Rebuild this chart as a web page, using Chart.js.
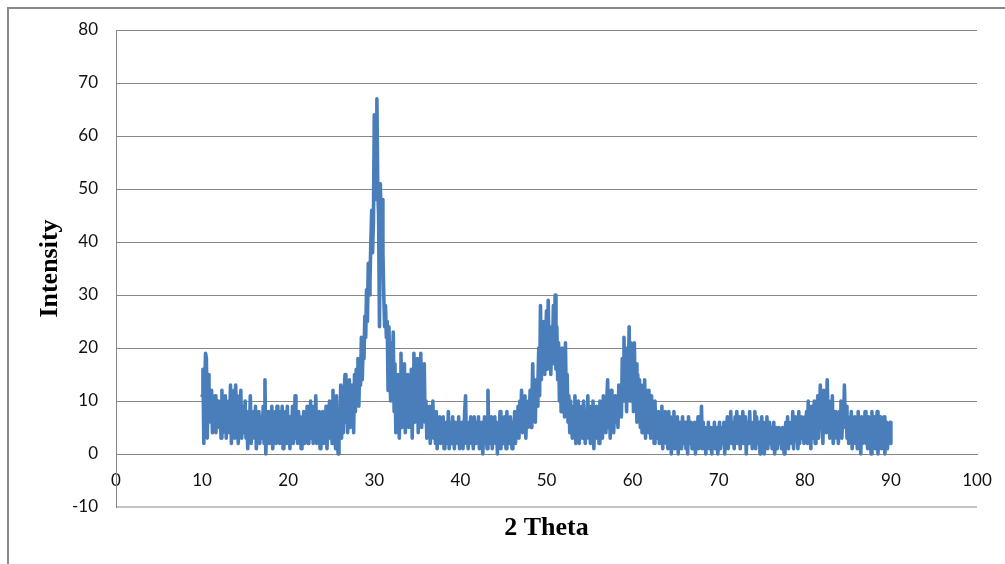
<!DOCTYPE html>
<html>
<head>
<meta charset="utf-8">
<script src="https://cdn.jsdelivr.net/npm/chart.js@4/dist/chart.umd.min.js"></script>
<style>
    body { margin: 0; background: #fff; overflow: hidden; }
    .moldura {
        position: absolute; left: 7px; top: 7px;
        width: 1200px; height: 800px;
        border: 2px solid #8a8a8a;
    }
    #grafico { position: absolute; left: 0; top: 0; }
</style>
</head>
<body>
<div class="moldura"></div>
<canvas id="grafico" width="1005" height="564"></canvas>

<script>
// varredura de 10 a 90 graus, passo de 0.1
const inicio = 10
const passo = 0.1

const intens10a30 = [
    11, 16, 2, 13, 19, 18, 3, 15, 8, 12,
    6, 12, 4, 9, 5, 11, 4, 8, 6, 10,
    5, 9, 3, 12, 4, 8, 6, 11, 3, 9,
    4, 10, 6, 13, 2, 9, 5, 12, 3, 13,
    6, 11, 2, 8, 5, 12, 3, 9, 4, 7,
    10, 3, 7, 1, 8, 4, 11, 2, 6, 5,
    8, 3, 9, 1, 6, 4, 8, 2, 7, 3,
    5, 9, 2, 14, 0, 6, 3, 8, 2, 7,
    4, 9, 1, 6, 3, 8, 2, 9, 4, 7,
    2, 8, 5, 9, 1, 6, 3, 8, 2, 9,
    4, 7, 1, 6, 3, 9, 2, 5, 11, 3,
    6, 2, 8, 4, 7, 1, 5, 3, 8, 2,
    6, 3, 9, 2, 5, 4, 10, 3, 7, 2,
    9, 4, 11, 2, 6, 3, 8, 1, 7, 4,
    8, 2, 6, 3, 9, 1, 5, 4, 10, 3,
    7, 2, 12, 4, 9, 1, 11, 3, 0, 8,
    5, 13, 3, 10, 4, 12, 15, 6, 11, 4,
    9, 14, 5, 13, 7, 12, 4, 15, 8, 16,
    11, 18, 9, 16, 13, 22, 14, 20, 18, 26,
    22, 31, 25, 36, 30, 33, 40, 46, 38, 44
]

const intens30a50 = [
    64, 48, 62, 67, 50, 45, 24, 51, 42, 48,
    38, 30, 24, 28, 22, 25, 12, 24, 16, 10,
    21, 13, 23, 8, 17, 4, 12, 6, 15, 3,
    10, 19, 5, 14, 9, 17, 4, 12, 7, 15,
    5, 13, 8, 16, 3, 11, 19, 6, 14, 9,
    18, 4, 12, 7, 19, 5, 14, 8, 17, 6,
    10, 3, 8, 5, 9, 2, 7, 4, 10, 3,
    6, 2, 8, 1, 5, 3, 7, 2, 6, 4,
    7, 1, 5, 3, 6, 2, 8, 1, 4, 6,
    2, 7, 4, 1, 6, 3, 5, 2, 7, 1,
    5, 3, 6, 1, 4, 8, 11, 2, 5, 1,
    6, 3, 7, 2, 5, 1, 7, 4, 2, 6,
    3, 7, 1, 5, 2, 6, 0, 4, 7, 2,
    5, 1, 12, 3, 6, 2, 7, 1, 5, 3,
    7, 2, 5, 0, 6, 3, 8, 1, 4, 6,
    2, 7, 4, 1, 8, 3, 6, 2, 7, 4,
    1, 6, 3, 8, 2, 7, 4, 9, 3, 10,
    5, 12, 4, 9, 6, 11, 3, 8, 5, 10,
    7, 12, 5, 9, 17, 8, 11, 6, 14, 9,
    13, 20, 11, 28, 14, 22, 16, 25, 15, 21
]

const intens50a70 = [
    27, 16, 29, 18, 24, 15, 22, 19, 28, 17,
    30, 16, 24, 14, 21, 10, 19, 8, 20, 12,
    18, 7, 21, 9, 15, 6, 11, 4, 10, 7,
    3, 9, 5, 11, 2, 8, 4, 10, 2, 7,
    5, 9, 3, 10, 6, 2, 8, 4, 11, 3,
    7, 2, 9, 5, 10, 1, 6, 4, 9, 3,
    8, 2, 10, 4, 7, 3, 11, 5, 8, 4,
    10, 14, 5, 9, 3, 12, 6, 10, 4, 8,
    11, 6, 9, 5, 13, 8, 12, 7, 18, 10,
    22, 11, 20, 8, 18, 14, 24, 10, 21, 12,
    19, 8, 21, 11, 17, 6, 15, 9, 14, 5,
    13, 4, 12, 7, 14, 3, 10, 6, 12, 4,
    9, 3, 11, 5, 8, 2, 10, 4, 7, 3,
    8, 2, 6, 4, 9, 1, 7, 3, 8, 2,
    6, 1, 8, 3, 7, 0, 5, 2, 8, 1,
    5, 2, 7, 0, 6, 3, 4, 1, 7, 2,
    4, 6, 1, 5, 0, 7, 3, 2, 6, 1,
    5, 2, 6, 0, 4, 3, 7, 1, 5, 2,
    9, 1, 6, 3, 5, 0, 4, 2, 6, 1,
    3, 5, 0, 4, 2, 6, 1, 5, 3, 0
]

const intens70a90 = [
    4, 6, 1, 3, 5, 2, 6, 0, 4, 3,
    7, 1, 5, 3, 8, 2, 6, 4, 1, 7,
    3, 8, 2, 5, 7, 1, 6, 3, 8, 2,
    5, 7, 0, 4, 6, 2, 8, 3, 5, 1,
    6, 3, 8, 1, 7, 4, 2, 6, 0, 5,
    7, 2, 5, 0, 6, 3, 7, 1, 4, 6,
    2, 5, 1, 4, 6, 0, 3, 5, 1, 4,
    5, 2, 4, 1, 5, 3, 0, 4, 6, 2,
    7, 1, 5, 3, 6, 2, 8, 1, 4, 7,
    3, 6, 1, 8, 2, 5, 7, 3, 6, 2,
    7, 3, 8, 2, 10, 4, 6, 1, 9, 3,
    6, 10, 2, 8, 4, 11, 3, 7, 13, 5,
    9, 2, 12, 6, 11, 4, 14, 7, 10, 3,
    9, 5, 11, 2, 7, 4, 8, 3, 6, 2,
    8, 4, 10, 3, 7, 5, 13, 6, 9, 3,
    7, 2, 6, 4, 8, 1, 5, 3, 7, 2,
    6, 1, 8, 3, 5, 0, 7, 2, 6, 4,
    8, 2, 5, 1, 7, 3, 6, 0, 8, 2,
    5, 7, 1, 4, 8, 0, 6, 3, 7, 1,
    5, 2, 7, 0, 4, 6, 1, 5, 3, 6,
    2
]

const intensidade = [...intens10a30, ...intens30a50, ...intens50a70, ...intens70a90]

const pontos = intensidade.map((valor, i) => ({
    x: Math.round((inicio + i * passo) * 10) / 10,
    y: valor
}))

const corGrade = '#878787'
const fonteEixo = { family: 'Lato', size: 17 }

// titulo do eixo horizontal fica abaixo da area do grafico
const tituloX = {
    id: 'tituloX',
    afterDraw(chart) {
        const { ctx, chartArea } = chart
        ctx.save()
        ctx.font = 'bold 26px "Liberation Serif"'
        ctx.fillStyle = '#000'
        ctx.textAlign = 'center'
        ctx.textBaseline = 'middle'
        ctx.fillText('2 Theta', (chartArea.left + chartArea.right) / 2, 528)
        ctx.restore()
    }
}

const ctx = document.getElementById('grafico')

new Chart(ctx, {
    type: 'line',
    data: {
        datasets: [{
            label: 'Intensity',
            data: pontos,
            borderColor: '#4a7ebb',
            borderWidth: 3.6,
            borderJoinStyle: 'round',
            borderCapStyle: 'round',
            pointRadius: 0,
            tension: 0,
            fill: false
        }]
    },
    options: {
        responsive: false,
        animation: false,
        layout: {
            padding: { left: 31, top: 30, right: 28, bottom: 57 }
        },
        plugins: {
            legend: { display: false },
            tooltip: { enabled: false }
        },
        scales: {
            x: {
                type: 'linear',
                position: { y: 0 },
                min: 0,
                max: 100,
                ticks: {
                    stepSize: 10,
                    color: '#111',
                    font: fonteEixo,
                    padding: 16,
                    maxRotation: 0
                },
                grid: { display: false, drawTicks: false },
                border: { display: true, color: corGrade, width: 1 },
                afterFit(escala) {
                    // o espaco lateral ja vem do padding do layout
                    escala.paddingLeft = 0
                    escala.paddingRight = 0
                }
            },
            y: {
                min: -10,
                max: 80,
                ticks: {
                    stepSize: 10,
                    color: '#111',
                    font: fonteEixo,
                    padding: 18
                },
                grid: {
                    drawTicks: false,
                    color: (c) => c.tick && c.tick.value === -10 ? '#c4c4c4' : corGrade,
                    lineWidth: (c) => c.tick && c.tick.value === -10 ? 2 : 1
                },
                border: { display: true, color: corGrade, width: 1 },
                title: {
                    display: true,
                    text: 'Intensity',
                    color: '#000',
                    font: { family: 'Liberation Serif', size: 26, weight: 'bold' },
                    padding: { top: 4, bottom: 4 }
                },
                afterFit(escala) {
                    escala.width = 85
                }
            }
        }
    },
    plugins: [tituloX]
})
</script>
</body>
</html>
